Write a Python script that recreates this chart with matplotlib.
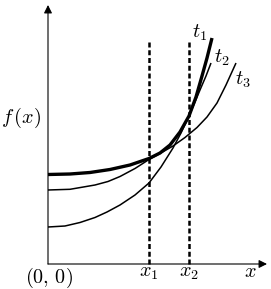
import matplotlib
matplotlib.use("Agg")
import matplotlib.pyplot as plt

plt.rcParams['mathtext.fontset'] = 'cm'
plt.rcParams['font.family'] = 'serif'

# curve points (x, y in axis units)
t1_x = [0.0, 2.2, 4.2, 6.2, 8.2, 10.1, 11.2, 12.2, 13.2, 14.1, 14.8, 15.4, 15.9, 16.4]
t1_y = [8.95, 9.0, 9.15, 9.45, 9.9, 10.55, 11.1, 11.9, 13.2, 14.8, 16.7, 18.8, 20.6, 22.6]

t3_x = [0.0, 2.2, 4.7, 6.0, 7.2, 8.7, 10.1, 11.2, 12.5, 13.7, 14.9, 15.9, 16.9, 17.8, 18.8]
t3_y = [7.4, 7.47, 7.9, 8.25, 8.75, 9.55, 10.45, 11.05, 11.8, 12.65, 13.65, 14.7, 16.1, 17.9, 20.1]

t2_x = [0.0, 1.7, 3.2, 4.7, 5.9, 7.2, 8.7, 10.1, 11.3, 12.5, 13.3, 14.1, 14.7, 15.2, 15.8, 16.3]
t2_y = [3.7, 3.8, 4.15, 4.65, 5.2, 5.9, 6.9, 8.1, 9.7, 11.6, 13.1, 14.8, 16.2, 17.4, 18.8, 20.1]

x1 = 10.1
x2 = 14.1
dash_top = 22.2

fig = plt.figure(figsize=(2.71, 2.89), dpi=100)
ax = fig.add_axes([0, 0, 1, 1])
ax.set_xlim(-4.8, 22.3)
ax.set_ylim(-2.5, 26.4)
ax.axis('off')

# axes with arrows
ax.annotate('', xy=(0, 25.9), xytext=(0, 0),
            arrowprops=dict(arrowstyle='-|>', color='black', lw=0.8,
                            mutation_scale=12, shrinkA=0, shrinkB=0))
ax.annotate('', xy=(21.9, 0), xytext=(0, 0),
            arrowprops=dict(arrowstyle='-|>', color='black', lw=0.8,
                            mutation_scale=12, shrinkA=0, shrinkB=0))

ax.plot([x1, x1], [0, dash_top], color='black', lw=1.8, ls=(0, (2.0, 1.1)))
ax.plot([x2, x2], [0, dash_top], color='black', lw=1.8, ls=(0, (2.0, 1.1)))

ax.plot(t2_x, t2_y, color='black', lw=1.1, solid_capstyle='butt')
ax.plot(t3_x, t3_y, color='black', lw=1.1, solid_capstyle='butt')
ax.plot(t1_x, t1_y, color='black', lw=2.4, solid_capstyle='butt')

fs = 14.5
ax.text(15.2, 23.1, r'$t_1$', fontsize=fs, ha='center', va='center')
ax.text(17.4, 20.6, r'$t_2$', fontsize=fs, ha='center', va='center')
ax.text(19.5, 18.4, r'$t_3$', fontsize=fs, ha='center', va='center')
ax.text(-2.7, 14.65, r'$f\,(x)$', fontsize=fs, ha='center', va='center')
ax.text(0.05, -1.4, r'$(0,\,0)$', fontsize=fs, ha='center', va='center')
ax.text(x1, -0.9, r'$x_1$', fontsize=fs, ha='center', va='center')
ax.text(x2, -0.9, r'$x_2$', fontsize=fs, ha='center', va='center')
ax.text(20.2, -0.75, r'$x$', fontsize=fs, ha='center', va='center')

fig.savefig('out.png', dpi=100)
